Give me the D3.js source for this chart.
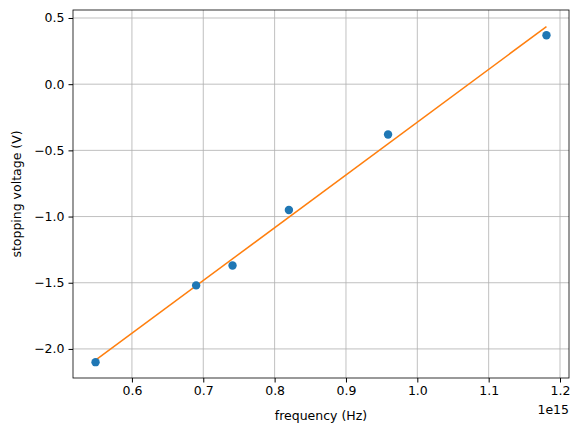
<!DOCTYPE html>
<html><head><meta charset="utf-8">
<script src="https://cdn.jsdelivr.net/npm/d3@7"></script>
<style>body{margin:0;background:#fff}text{font-family:"DejaVu Sans",sans-serif}</style>
</head><body><svg id="c" width="579" height="432"></svg>
<script>
// measured frequencies (x1e15 Hz) and stopping voltages
const freq = [0.549, 0.690, 0.741, 0.820, 0.959, 1.181];
const volts = [-2.10, -1.52, -1.37, -0.95, -0.38, 0.37];
const fitX = [0.549, 1.181];
const fitY = [-2.085, 0.435];
const xTicks = [0.6, 0.7, 0.8, 0.9, 1.0, 1.1, 1.2];
const yTicks = [0.5, 0.0, -0.5, -1.0, -1.5, -2.0];

const m = {left: 73, right: 569, top: 10, bottom: 378};
const fs = 12.5;
const svg = d3.select('#c');
const x = d3.scaleLinear().domain([0.5174, 1.2126]).range([m.left, m.right]);
const y = d3.scaleLinear().domain([-2.2196, 0.5604]).range([m.bottom, m.top]);

// grid
svg.append('g').selectAll('line').data(xTicks).join('line')
  .attr('x1', d => x(d)).attr('x2', d => x(d)).attr('y1', m.top).attr('y2', m.bottom)
  .attr('stroke', '#b0b0b0').attr('stroke-width', 0.8);
svg.append('g').selectAll('line').data(yTicks).join('line')
  .attr('y1', d => y(d)).attr('y2', d => y(d)).attr('x1', m.left).attr('x2', m.right)
  .attr('stroke', '#b0b0b0').attr('stroke-width', 0.8);

const xa = svg.append('g').attr('transform', 'translate(0,' + m.bottom + ')')
  .call(d3.axisBottom(x).tickValues(xTicks).tickFormat(d3.format('.1f')).tickSizeOuter(0).tickSize(4.5).tickPadding(4));
const ya = svg.append('g').attr('transform', 'translate(' + m.left + ',0)')
  .call(d3.axisLeft(y).tickValues(yTicks).tickFormat(d3.format('.1f')).tickSizeOuter(0).tickSize(4.5).tickPadding(4));
[xa, ya].forEach(a => {
  a.select('.domain').remove();
  a.selectAll('text').attr('font-size', fs).attr('fill', '#000').style('font-family', '"DejaVu Sans"');
  a.selectAll('line').attr('stroke', '#000');
});
ya.selectAll('text').text(d => d3.format('.1f')(d).replace('-', '\u2212'));

svg.append('rect').attr('x', m.left).attr('y', m.top).attr('width', m.right - m.left).attr('height', m.bottom - m.top)
  .attr('fill', 'none').attr('stroke', '#000').attr('stroke-width', 0.8);

svg.append('path').datum(fitX.map((v, i) => [v, fitY[i]]))
  .attr('d', d3.line().x(d => x(d[0])).y(d => y(d[1])))
  .attr('stroke', '#ff7f0e').attr('stroke-width', 1.5).attr('fill', 'none');

svg.append('g').selectAll('circle').data(freq).join('circle')
  .attr('cx', d => x(d)).attr('cy', (d, i) => y(volts[i])).attr('r', 4.2).attr('fill', '#1f77b4');

svg.append('text').attr('x', (m.left + m.right) / 2).attr('y', 420).attr('text-anchor', 'middle')
  .attr('font-size', fs).text('frequency (Hz)');
svg.append('text').attr('transform', 'translate(21,' + (m.top + m.bottom) / 2 + ') rotate(-90)')
  .attr('text-anchor', 'middle').attr('font-size', fs).text('stopping voltage (V)');
svg.append('text').attr('x', m.right).attr('y', 414).attr('text-anchor', 'end')
  .attr('font-size', fs).text('1e15');
</script></body></html>
